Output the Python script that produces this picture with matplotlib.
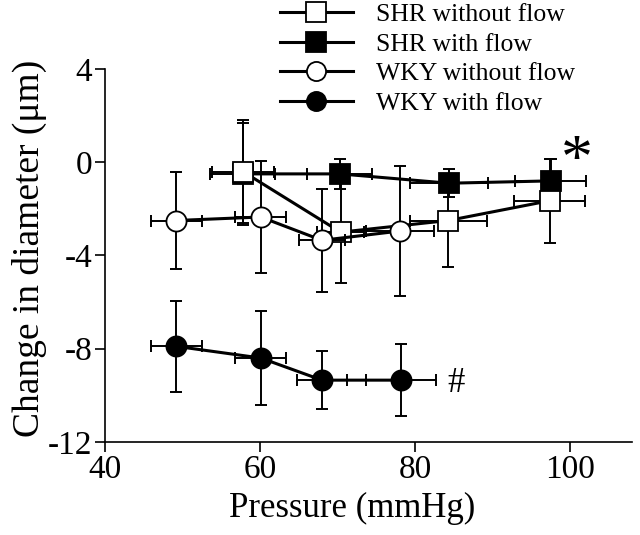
import matplotlib
matplotlib.use("Agg")
import matplotlib.pyplot as plt

plt.rcParams['font.family'] = ['Liberation Serif', 'DejaVu Serif']
plt.rcParams['axes.unicode_minus'] = False

# SHR without flow (open squares)
shr_no_x = [57.8, 70.4, 84.3, 97.4]
shr_no_y = [-0.4, -3.0, -2.5, -1.65]
shr_no_xerr = [4.0, 3.0, 5.0, 4.6]
shr_no_yerr = [2.2, 2.2, 2.0, 1.8]

# SHR with flow (filled squares)
shr_fl_x = [57.8, 70.3, 84.4, 97.5]
shr_fl_y = [-0.5, -0.5, -0.9, -0.8]
shr_fl_xerr = [4.2, 4.2, 5.0, 4.6]
shr_fl_yerr = [2.2, 0.65, 0.6, 0.95]

# WKY without flow (open circles)
wky_no_x = [49.2, 60.1, 68.0, 78.1]
wky_no_y = [-2.5, -2.35, -3.35, -2.95]
wky_no_xerr = [3.3, 3.3, 3.0, 4.4]
wky_no_yerr = [2.1, 2.4, 2.2, 2.8]

# WKY with flow (filled circles)
wky_fl_x = [49.2, 60.1, 68.0, 78.2]
wky_fl_y = [-7.9, -8.4, -9.35, -9.35]
wky_fl_xerr = [3.3, 3.3, 3.2, 4.5]
wky_fl_yerr = [1.95, 2.0, 1.25, 1.55]

x_ticks = [40, 60, 80, 100]
y_ticks = [4, 0, -4, -8, -12]

fig = plt.figure(figsize=(6.4, 5.35), dpi=100)
ax = fig.add_axes([0.164, 0.174, 0.8235, 0.697])

series = [
    (shr_fl_x, shr_fl_y, shr_fl_xerr, shr_fl_yerr, 's', 'black', 'SHR with flow', 2),
    (shr_no_x, shr_no_y, shr_no_xerr, shr_no_yerr, 's', 'white', 'SHR without flow', 3),
    (wky_no_x, wky_no_y, wky_no_xerr, wky_no_yerr, 'o', 'white', 'WKY without flow', 4),
    (wky_fl_x, wky_fl_y, wky_fl_xerr, wky_fl_yerr, 'o', 'black', 'WKY with flow', 5),
]
handles = {}
for x, y, xe, ye, m, fc, lab, z in series:
    ax.errorbar(x, y, xerr=xe, yerr=ye, fmt='none', ecolor='black',
                elinewidth=1.4, capsize=4.5, capthick=1.4, zorder=z)
    h, = ax.plot(x, y, color='black', lw=2.2, marker=m, markersize=14.5,
                 markerfacecolor=fc, markeredgecolor='black', markeredgewidth=1.3,
                 label=lab, zorder=z + 0.5)
    handles[lab] = h

# significance marks
ax.text(100.9, -0.05, '*', fontsize=46, ha='center', va='center')
ax.text(85.3, -9.5, '#', fontsize=25, ha='center', va='center')

ax.set_xlim(40, 108)
ax.set_ylim(-12, 4)
ax.set_xticks(x_ticks)
ax.set_yticks(y_ticks)
ax.spines['top'].set_visible(False)
ax.spines['right'].set_visible(False)
for s in ('left', 'bottom'):
    ax.spines[s].set_linewidth(1.2)
ax.tick_params(direction='out', length=7, width=1.2, labelsize=24, pad=2)
ax.set_xlabel('Pressure (mmHg)', fontsize=25)
ax.set_ylabel('Change in diameter (μm)', fontsize=27)
ax.xaxis.set_label_coords(0.469, -0.135)
ax.yaxis.set_label_coords(-0.11, 0.52)

order = ['SHR without flow', 'SHR with flow', 'WKY without flow', 'WKY with flow']
leg = fig.legend([handles[k] for k in order], order, loc='upper left',
                 bbox_to_anchor=(0.401, 1.037), frameon=False, fontsize=18.5,
                 handlelength=2.85, handletextpad=0.9, labelspacing=0.25,
                 markerscale=0.95)

fig.savefig('out.png', dpi=100)
